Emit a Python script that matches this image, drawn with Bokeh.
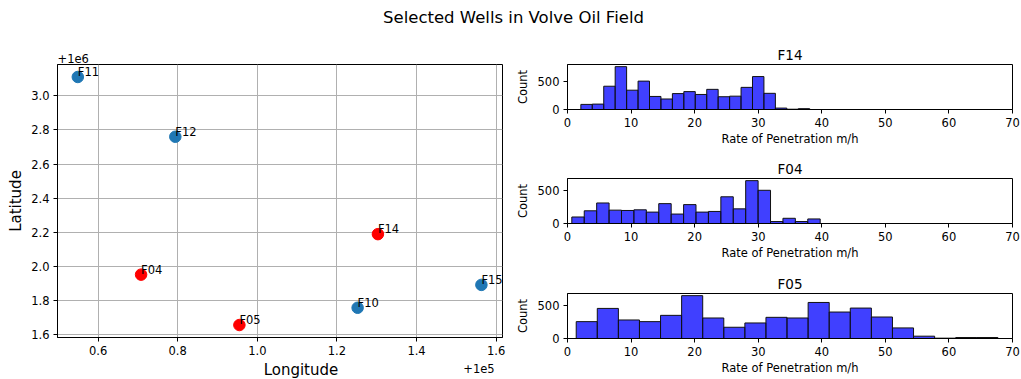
import numpy as np
from bokeh.plotting import figure
from bokeh.layouts import column, row
from bokeh.models import Range1d, Label, FixedTicker, NumeralTickFormatter, ColumnDataSource, Title
from bokeh.core.properties import value
from bokeh.embed import file_html
from bokeh.resources import INLINE

# ---------------- data ----------------
wells = ["F11", "F12", "F04", "F05", "F14", "F10", "F15"]
longitude = [0.549, 0.794, 0.708, 0.955, 1.303, 1.252, 1.563]   # offset +1e5
latitude = [3.110, 2.760, 1.953, 1.658, 2.190, 1.759, 1.893]    # offset +1e6
selected = ["F14", "F04", "F05"]

hist_wells = ["F14", "F04", "F05"]
f14_counts = [90, 95, 410, 755, 340, 500, 230, 185, 280, 315, 265, 355, 225, 235, 390, 580, 285, 25, 5, 15]
f14_range = (2.1, 38.1)
f04_counts = [100, 195, 315, 205, 200, 210, 175, 305, 145, 290, 175, 185, 410, 225, 658, 510, 30, 80, 30, 70]
f04_range = (0.68, 39.75)
f05_counts = [255, 455, 280, 255, 350, 648, 310, 170, 235, 320, 310, 545, 400, 460, 325, 160, 35, 5, 15, 15]
f05_range = (1.37, 67.7)
hist_counts = [f14_counts, f04_counts, f05_counts]
hist_ranges = [f14_range, f04_range, f05_range]

lon_ticks = [0.6, 0.8, 1.0, 1.2, 1.4, 1.6]
lat_ticks = [1.6, 1.8, 2.0, 2.2, 2.4, 2.6, 2.8, 3.0]
rop_ticks = [0, 10, 20, 30, 40, 50, 60, 70]
count_ticks = [0, 500]

FONT = "DejaVu Sans"
TICK_SIZE = "11.5px"


def style_axis(ax, label_size, label_standoff):
    ax.axis_label_text_font = FONT
    ax.axis_label_text_font_style = "normal"
    ax.axis_label_text_font_size = label_size
    ax.axis_label_text_color = "black"
    ax.major_label_text_font = FONT
    ax.major_label_text_font_size = TICK_SIZE
    ax.major_label_text_color = "black"
    ax.major_tick_out = 4
    ax.major_tick_in = 0
    ax.minor_tick_out = 0
    ax.minor_tick_in = 0
    ax.major_label_standoff = 4
    ax.axis_label_standoff = label_standoff
    ax.axis_line_color = "black"
    ax.major_tick_line_color = "black"


def blank_fig(w, h, xr, yr):
    f = figure(width=w, height=h, toolbar_location=None, output_backend="svg",
               x_range=Range1d(*xr), y_range=Range1d(*yr), title=None,
               min_border=0, x_axis_location=None, y_axis_location=None)
    f.grid.visible = False
    f.outline_line_color = None
    return f


# ---------------- header ----------------
header = blank_fig(1021, 40, (0, 1021), (0, 40))
header.add_layout(Label(x=513, y=23.5, text="Selected Wells in Volve Oil Field",
                        text_align="center", text_baseline="middle",
                        text_font=FONT, text_font_size="16.5px", text_color="black"))

# ---------------- scatter map ----------------
colors = ["red" if w in selected else "#1f77b4" for w in wells]
src = ColumnDataSource(dict(x=longitude, y=latitude, name=wells, color=colors))

x0, x1 = 0.498, 1.616
y0, y1 = 1.585, 3.183
pmap = figure(width=510, height=319, toolbar_location=None, output_backend="svg",
              x_range=Range1d(x0, x1), y_range=Range1d(y0, y1),
              min_border_left=57, min_border_right=8, min_border_top=24, min_border_bottom=22)
pmap.title.text = "+1e6"
pmap.title.align = "left"
pmap.title.text_font = FONT
pmap.title.text_font_size = "11.5px"
pmap.title.text_font_style = "normal"
pmap.title.text_color = "black"
pmap.title.standoff = 4
pmap.outline_line_color = "black"
pmap.outline_line_width = 1
pmap.xaxis.ticker = FixedTicker(ticks=lon_ticks)
pmap.yaxis.ticker = FixedTicker(ticks=lat_ticks)
pmap.xaxis.formatter = NumeralTickFormatter(format="0.0")
pmap.yaxis.formatter = NumeralTickFormatter(format="0.0")
pmap.yaxis.axis_label = "Latitude"
style_axis(pmap.xaxis[0], "15px", 2)
style_axis(pmap.yaxis[0], "15px", 3)
pmap.grid.grid_line_color = "#b0b0b0"
pmap.grid.grid_line_width = 1

pmap.scatter("x", "y", source=src, size=11.5, fill_color="color", line_color="color")
pmap.text("x", "y", text="name", source=src, text_font=value(FONT), text_font_size="11.5px",
          text_baseline="bottom", text_align="left", text_color="black", y_offset=2)

# footer under the map: x-axis title and offset text
footer = blank_fig(510, 20, (0, 510), (0, 20))
footer.add_layout(Label(x=279, y=10, text="Longitude", text_align="center", text_baseline="middle",
                        text_font=FONT, text_font_size="15px", text_color="black"))
footer.add_layout(Label(x=501, y=11, text="+1e5", text_align="right", text_baseline="middle",
                        text_font=FONT, text_font_size="11.5px", text_color="black"))

left_col = column(pmap, footer, spacing=0)

# ---------------- histograms ----------------
heights = [114, 114, 111]
tops = [24, 24, 25]
bottoms = [45, 45, 41]
hists = []
for name, counts, rng, h, bt, bb in zip(hist_wells, hist_counts, hist_ranges, heights, tops, bottoms):
    edges = np.linspace(rng[0], rng[1], len(counts) + 1)
    hsrc = ColumnDataSource(dict(left=edges[:-1], right=edges[1:], top=counts,
                                 bottom=[0] * len(counts)))
    ph = figure(width=511, height=h, toolbar_location=None, output_backend="svg",
                x_range=Range1d(0, 70), y_range=Range1d(0, max(counts) * 1.05),
                min_border_left=57, min_border_right=9, min_border_top=bt, min_border_bottom=bb)
    ph.title.text = name
    ph.title.align = "center"
    ph.title.text_font = FONT
    ph.title.text_font_size = "13.5px"
    ph.title.text_font_style = "normal"
    ph.title.text_color = "black"
    ph.title.standoff = 4
    ph.outline_line_color = "black"
    ph.outline_line_width = 1
    ph.grid.visible = False
    ph.xaxis.ticker = FixedTicker(ticks=rop_ticks)
    ph.yaxis.ticker = FixedTicker(ticks=count_ticks)
    ph.xaxis.axis_label = "Rate of Penetration m/h"
    ph.yaxis.axis_label = "Count"
    style_axis(ph.xaxis[0], "11.5px", 2)
    style_axis(ph.yaxis[0], "11.5px", 5)
    ph.quad(left="left", right="right", top="top", bottom="bottom", source=hsrc,
            fill_color="blue", fill_alpha=0.75, line_color="#111111", line_width=1)
    hists.append(ph)

right_col = column(*hists, spacing=0)
body = row(left_col, right_col, spacing=0)
layout = column(header, body, spacing=0)

open("out.html", "w").write(file_html(layout, INLINE))
